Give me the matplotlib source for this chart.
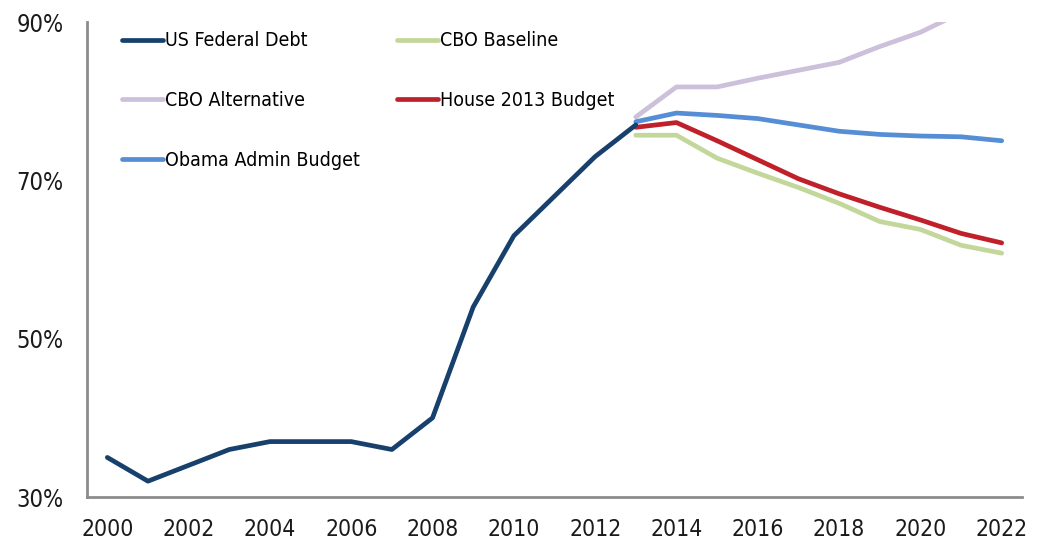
import matplotlib
matplotlib.use("Agg")
import matplotlib.pyplot as plt
from matplotlib.ticker import FuncFormatter

years_hist = list(range(2000, 2014))
us_debt = [35, 32, 34, 36, 37, 37, 37, 36, 40, 54, 63, 68, 73, 77]

years_proj = list(range(2013, 2023))
cbo_baseline = [75.7, 75.7, 72.8, 70.9, 69.1, 67.1, 64.8, 63.8, 61.8, 60.8]
cbo_alternative = [78.0, 81.8, 81.8, 82.9, 83.9, 84.9, 86.9, 88.7, 91.2, 93.0]
house_budget = [76.7, 77.3, 75.0, 72.6, 70.2, 68.3, 66.6, 65.0, 63.3, 62.1]
obama_budget = [77.4, 78.5, 78.2, 77.8, 77.0, 76.2, 75.8, 75.6, 75.5, 75.0]

yticks = [30, 50, 70, 90]
xticks = list(range(2000, 2023, 2))

plt.rcParams['font.family'] = ['DejaVu Sans']
plt.rcParams['font.stretch'] = 'condensed'

fig = plt.figure(figsize=(10.38, 5.42), dpi=100)
ax = fig.add_axes([0.0838, 0.083, 0.9008, 0.8764])

lw = 3.4
l_us, = ax.plot(years_hist, us_debt, color='#17406D', lw=lw, solid_capstyle='round', label='US Federal Debt', zorder=5)
l_base, = ax.plot(years_proj, cbo_baseline, color='#C4D79B', lw=lw, solid_capstyle='round', label='CBO Baseline', zorder=2)
l_alt, = ax.plot(years_proj, cbo_alternative, color='#CCC0DA', lw=lw, solid_capstyle='round', label='CBO Alternative', zorder=2)
l_house, = ax.plot(years_proj, house_budget, color='#C0202A', lw=lw, solid_capstyle='round', label='House 2013 Budget', zorder=3)
l_obama, = ax.plot(years_proj, obama_budget, color='#558ED5', lw=lw, solid_capstyle='round', label='Obama Admin Budget', zorder=4)

ax.set_xlim(1999.5, 2022.5)
ax.set_ylim(30, 90)
ax.set_yticks(yticks)
ax.set_xticks(xticks)
ax.yaxis.set_major_formatter(FuncFormatter(lambda v, p: f"{v:.0f}%"))
ax.tick_params(axis='both', length=0, colors='#1a1a1a')
ax.tick_params(axis='y', pad=17, labelsize=17)
ax.tick_params(axis='x', pad=15, labelsize=16.5)

for s in ['top', 'right']:
    ax.spines[s].set_visible(False)
for s in ['left', 'bottom']:
    ax.spines[s].set_color('#8C8C8C')
    ax.spines[s].set_linewidth(2)

handles = [l_us, l_alt, l_obama, l_base, l_house]
leg = ax.legend(handles=handles, labels=[h.get_label() for h in handles], ncol=2,
                loc='upper left', bbox_to_anchor=(0.019, 1.017), frameon=False,
                fontsize=14, handlelength=2.1, handletextpad=0.08,
                labelspacing=2.1, columnspacing=1.95)

fig.savefig('out.png', dpi=100)
